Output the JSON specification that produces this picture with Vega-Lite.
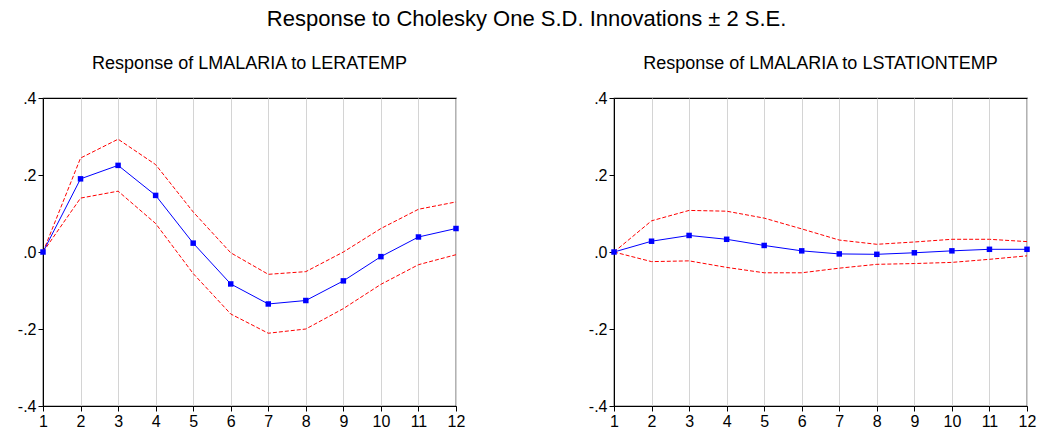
{
  "$schema": "https://vega.github.io/schema/vega-lite/v6.json",
  "padding": {"left": 16, "top": 8, "right": 5, "bottom": 5},
  "background": "white",
  "title": {
    "text": "Response to Cholesky One S.D. Innovations ± 2 S.E.",
    "font": "Liberation Sans",
    "fontSize": 22,
    "fontWeight": "normal",
    "color": "black",
    "anchor": "middle",
    "offset": 23
  },
  "config": {
    "view": {"stroke": "black", "strokeWidth": 1.2},
    "axis": {
      "labelFont": "Liberation Sans",
      "labelFontSize": 16,
      "labelColor": "black",
      "domainColor": "black",
      "tickColor": "black",
      "tickSize": 5,
      "gridColor": "#d4d4d4",
      "gridWidth": 1,
      "title": null
    },
    "title": {"font": "Liberation Sans", "fontSize": 18, "fontWeight": "normal", "color": "black"}
  },
  "spacing": 121,
  "datasets": {
    "irf": [
      {"panel": "A", "step": 1, "resp": 0.0, "upper": 0.0, "lower": 0.0},
      {"panel": "A", "step": 2, "resp": 0.190, "upper": 0.244, "lower": 0.140},
      {"panel": "A", "step": 3, "resp": 0.225, "upper": 0.293, "lower": 0.158},
      {"panel": "A", "step": 4, "resp": 0.147, "upper": 0.227, "lower": 0.074},
      {"panel": "A", "step": 5, "resp": 0.023, "upper": 0.104, "lower": -0.056},
      {"panel": "A", "step": 6, "resp": -0.083, "upper": -0.002, "lower": -0.161},
      {"panel": "A", "step": 7, "resp": -0.135, "upper": -0.058, "lower": -0.211},
      {"panel": "A", "step": 8, "resp": -0.126, "upper": -0.051, "lower": -0.200},
      {"panel": "A", "step": 9, "resp": -0.075, "upper": 0.000, "lower": -0.147},
      {"panel": "A", "step": 10, "resp": -0.012, "upper": 0.061, "lower": -0.084},
      {"panel": "A", "step": 11, "resp": 0.039, "upper": 0.111, "lower": -0.033},
      {"panel": "A", "step": 12, "resp": 0.061, "upper": 0.130, "lower": -0.007},
      {"panel": "B", "step": 1, "resp": 0.0, "upper": 0.0, "lower": 0.0},
      {"panel": "B", "step": 2, "resp": 0.028, "upper": 0.081, "lower": -0.025},
      {"panel": "B", "step": 3, "resp": 0.043, "upper": 0.108, "lower": -0.023},
      {"panel": "B", "step": 4, "resp": 0.033, "upper": 0.106, "lower": -0.040},
      {"panel": "B", "step": 5, "resp": 0.017, "upper": 0.088, "lower": -0.054},
      {"panel": "B", "step": 6, "resp": 0.003, "upper": 0.060, "lower": -0.054},
      {"panel": "B", "step": 7, "resp": -0.005, "upper": 0.031, "lower": -0.042},
      {"panel": "B", "step": 8, "resp": -0.006, "upper": 0.020, "lower": -0.032},
      {"panel": "B", "step": 9, "resp": -0.002, "upper": 0.026, "lower": -0.030},
      {"panel": "B", "step": 10, "resp": 0.003, "upper": 0.033, "lower": -0.027},
      {"panel": "B", "step": 11, "resp": 0.007, "upper": 0.033, "lower": -0.019},
      {"panel": "B", "step": 12, "resp": 0.007, "upper": 0.027, "lower": -0.010}
    ]
  },
  "hconcat": [
    {
      "width": 413,
      "height": 308,
      "title": {"text": "Response of LMALARIA to LERATEMP", "offset": 17},
      "data": {"name": "irf"},
      "transform": [{"filter": "datum.panel === 'A'"}],
      "encoding": {
        "x": {"field": "step", "type": "quantitative", "scale": {"domain": [1, 12], "nice": false, "zero": false},
              "axis": {"values": [1,2,3,4,5,6,7,8,9,10,11,12], "format": "d", "labelPadding": 2, "labelFlush": false}}
      },
      "layer": [
        {"mark": {"type": "rule", "color": "black", "strokeWidth": 1.2},
         "encoding": {"y": {"datum": 0, "type": "quantitative", "scale": {"domain": [-0.4, 0.4], "nice": false},
           "axis": {"values": [-0.4, -0.2, 0, 0.2, 0.4], "labelExpr": "(datum.value < -0.001 ? '-' : '') + replace(format(abs(datum.value), '.1f'), '0.', '.')", "labelPadding": 2, "labelFlush": false}}}},
        {"mark": {"type": "line", "color": "#ff0000", "strokeWidth": 1, "strokeDash": [4, 2]},
         "encoding": {"y": {"field": "upper", "type": "quantitative"}}},
        {"mark": {"type": "line", "color": "#ff0000", "strokeWidth": 1, "strokeDash": [4, 2]},
         "encoding": {"y": {"field": "lower", "type": "quantitative"}}},
        {"mark": {"type": "line", "color": "#0000ff", "strokeWidth": 1, "point": {"shape": "square", "size": 30, "filled": true, "color": "#0000ff"}},
         "encoding": {"y": {"field": "resp", "type": "quantitative"}}}
      ]
    },
    {
      "width": 413,
      "height": 308,
      "title": {"text": "Response of LMALARIA to LSTATIONTEMP", "offset": 17},
      "data": {"name": "irf"},
      "transform": [{"filter": "datum.panel === 'B'"}],
      "encoding": {
        "x": {"field": "step", "type": "quantitative", "scale": {"domain": [1, 12], "nice": false, "zero": false},
              "axis": {"values": [1,2,3,4,5,6,7,8,9,10,11,12], "format": "d", "labelPadding": 2, "labelFlush": false}}
      },
      "layer": [
        {"mark": {"type": "rule", "color": "black", "strokeWidth": 1.2},
         "encoding": {"y": {"datum": 0, "type": "quantitative", "scale": {"domain": [-0.4, 0.4], "nice": false},
           "axis": {"values": [-0.4, -0.2, 0, 0.2, 0.4], "labelExpr": "(datum.value < -0.001 ? '-' : '') + replace(format(abs(datum.value), '.1f'), '0.', '.')", "labelPadding": 2, "labelFlush": false}}}},
        {"mark": {"type": "line", "color": "#ff0000", "strokeWidth": 1, "strokeDash": [4, 2]},
         "encoding": {"y": {"field": "upper", "type": "quantitative"}}},
        {"mark": {"type": "line", "color": "#ff0000", "strokeWidth": 1, "strokeDash": [4, 2]},
         "encoding": {"y": {"field": "lower", "type": "quantitative"}}},
        {"mark": {"type": "line", "color": "#0000ff", "strokeWidth": 1, "point": {"shape": "square", "size": 30, "filled": true, "color": "#0000ff"}},
         "encoding": {"y": {"field": "resp", "type": "quantitative"}}}
      ]
    }
  ]
}
